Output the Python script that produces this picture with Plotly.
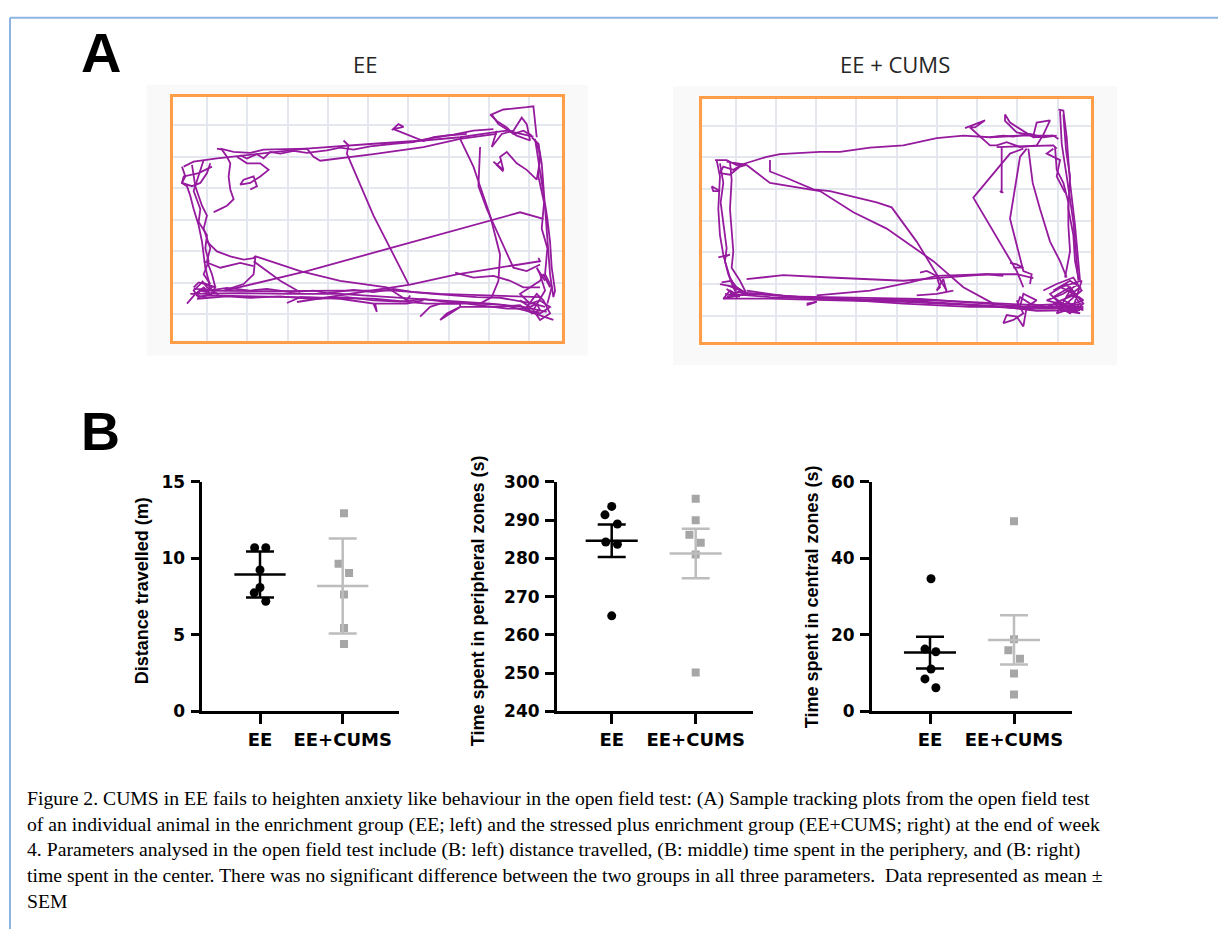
import plotly.graph_objects as go

W, H = 1218, 939

# ---------------- data ----------------
groups = ["EE", "EE+CUMS"]

dist_ee = [10.7, 10.7, 9.25, 8.1, 7.75, 7.2]
dist_cums = [12.95, 9.65, 9.05, 7.65, 5.45, 4.4]
dist_mean = [8.95, 8.2]
dist_err = [1.5, 3.1]

peri_ee = [293.6, 291.4, 289.0, 284.3, 283.7, 265.0]
peri_cums = [295.6, 290.0, 286.2, 284.1, 281.0, 250.2]
peri_mean = [284.6, 281.3]
peri_err = [4.25, 6.45]

cent_ee = [34.7, 16.3, 15.6, 11.1, 8.5, 6.2]
cent_cums = [49.7, 18.9, 16.0, 13.8, 9.9, 4.4]
cent_mean = [15.4, 18.7]
cent_err = [4.15, 6.45]

# tracking paths (camera coordinates), strokes separated by None
ee_x = [130,160,230,300,380,500,620,700,850,960,1060,1100,1180,None,
        240,280,330,370,500,520,540,700,850,960,1070,None,
        755,775,790,760,850,880,940,1000,1060,None,
        1190,1180,1160,1090,1055,1075,1130,1170,1160,1145,1120,1085,1055,1070,None,
        1060,1090,1080,1100,1130,1160,1190,1200,1195,None,
        1175,1195,1205,1210,1215,1220,1225,1230,1240,1245,1235,1230,1222,1210,1195,1185,None,
        610,625,620,700,805,None,
        960,1000,1020,1050,1080,1075,1055,1020,None,
        1020,1015,1040,1075,1120,1160,1200,None,
        255,500,750,1140,1210,None,
        340,345,360,480,600,740,800,810,None,
        340,420,480,None,
        470,700,810,950,1200,1195,None,
        945,1000,1060,1110,1150,1200,None,
        125,135,125,140,150,160,175,185,190,195,205,210,None,
        155,165,185,200,190,210,200,215,225,None,
        230,245,260,270,265,270,280,260,230,220,240,None,
        290,320,360,385,360,330,300,310,340,350,330,None,
        210,200,180,155,125,130,175,215,None,
        200,230,270,310,345,340,310,250,None,
        190,240,300,340,None,
        440,480,600,700,710,705,800,850,None,
        840,870,900,960,960,920,900,960,1020,1080,1140,1160,1200,1230,1200,1170,1140,1170,1200,1210,1230,None,
        150,300,450,600,750,900,1050,1150,1220,None,
        180,400,600,760,900,1050,1200,None,
        200,500,700,860,980,1100,1180,None,
        140,165,190,210,175,160,185,225,210,None,
        160,220,260,330,380,450,520,560,640,700,760,820,880,950,1010,1080,1130,1180,1215,None,
        170,260,330,420,520,620,700,780,850,930,1010,1090,1160,1210,1240,None,
        1185,1200,1195,1212,1205,1222,1215,1235,1222,None,
        1140,1170,1190,1200,1175,1160,1190,1210,1230,1200,1180,1215,1200,1190,1215,None,
        160,175,195,215,200,180,170,190,220,235,200,185,None,
        190,175,160,180,175,200,195,205,190,210,None,
        300,320,350,370,390,420,460,500,560,600,640,690,760,820,860,920,980,None,
        1050,1070,1100,1120,1150,1175,None,
        1085,1070,1090]
ee_y = [270,255,245,238,228,215,205,200,190,180,165,160,178,None,
        215,225,228,218,215,240,252,232,210,185,170,None,
        158,140,148,155,192,180,172,160,155,None,
        180,85,88,95,110,140,175,190,140,120,160,170,210,160,None,
        255,280,240,225,260,280,310,250,200,None,
        180,200,260,330,400,470,540,600,670,650,580,500,430,350,260,185,None,
        190,205,230,420,630,None,
        185,270,330,420,540,620,670,690,None,
        210,330,400,480,580,590,570,None,
        650,590,520,410,430,None,
        550,545,550,590,620,640,680,665,None,
        560,620,655,None,
        685,650,632,600,560,550,None,
        595,610,605,620,640,640,None,
        270,300,320,330,360,400,450,500,540,580,620,650,None,
        265,330,390,420,460,520,560,600,640,None,
        215,218,240,260,300,340,370,390,405,410,400,None,
        240,260,260,280,300,320,325,310,300,330,340,None,
        260,290,320,330,320,300,290,270,None,
        500,530,545,555,550,600,630,650,None,
        560,580,565,575,None,
        688,670,675,690,715,690,690,680,None,
        730,700,690,690,700,720,740,700,700,700,695,710,720,700,680,690,660,640,620,600,640,None,
        660,658,660,660,670,680,690,700,715,None,
        650,652,650,650,660,665,670,None,
        665,670,675,690,690,705,705,None,
        690,660,640,660,670,650,625,640,665,None,
        645,648,642,650,645,655,650,658,648,655,645,655,660,665,670,672,680,690,700,None,
        675,668,672,668,676,670,680,684,676,686,690,694,712,730,740,None,
        190,230,300,380,460,520,600,640,690,None,
        680,700,690,710,720,700,660,680,720,740,710,650,600,580,620,None,
        640,625,630,640,655,650,665,670,655,662,640,620,None,
        250,300,345,400,440,480,520,560,600,630,None,
        235,245,232,245,225,230,222,228,220,212,218,208,200,195,185,175,170,None,
        110,130,150,170,160,175,None,
        250,265,285]

cums_x = [220,290,330,450,510,600,700,800,880,960,1050,1150,1165,None,
          885,945,915,900,960,980,1010,1050,1100,1120,1140,1100,1090,1040,1005,1005,1020,1060,1090,1150,None,
          1165,1180,1190,1200,1215,1225,1230,None,
          1170,1175,1190,1210,1220,1225,None,
          1155,1160,1180,1195,1195,1200,1185,None,
          1075,1088,1110,1140,1170,1190,None,
          995,995,990,1000,None,
          1060,1020,910,960,1000,1040,1060,None,
          1070,1050,1020,1060,1085,1080,None,
          980,1060,1150,1160,None,
          300,300,350,430,480,620,665,740,800,830,None,
          230,300,450,550,650,790,880,970,None,
          230,340,480,600,700,800,950,1040,1090,None,
          440,600,720,800,950,1000,None,
          750,770,790,800,810,800,820,830,None,
          740,800,850,None,
          160,300,500,700,900,1050,1150,1240,None,
          200,400,600,800,1000,1100,1200,None,
          230,350,550,750,950,1050,1180,1235,None,
          180,300,500,700,900,1000,1100,1230,None,
          1150,1200,1230,1180,1220,1160,1200,1240,1180,1140,1190,1230,1200,1150,1220,1170,1235,1210,1240,1130,1180,1225,None,
          1040,1060,1030,1000,1010,1040,1060,1070,1100,1060,1050,None,
          140,150,145,150,160,175,190,200,None,
          180,185,180,190,185,210,230,None,
          135,170,200,220,190,160,150,180,210,230,170,None,
          125,150,130,125,None,
          145,180,160,None,
          150,200,230,160,180,210,165,None,
          410,440,410,None,
          1020,1040,1060,1030,None,
          170,240,320,420,520,620,720,820,920,1020,1120,1200,1240,None,
          1180,1188,1200,1195,1210,1215,1225,None,
          1120,1160,1210,1235,1200,1170,1230,1190,1150,1200,1240,1210,1160,1130,1080,1050,1040,1090,None,
          150,160,152,160,170,165,180,200,None,
          155,185,200,215,190,170,200,225,175,None,
          960,1000,1030,1080,1120,1160,None,
          1150,1130,1170,1160,1185]
cums_y = [262,240,232,225,225,212,205,183,175,180,175,175,185,None,
          152,128,150,150,205,205,195,210,205,172,128,135,175,165,130,110,135,160,180,175,None,
          95,98,180,320,450,570,620,None,
          100,200,300,440,560,620,None,
          210,280,320,380,450,530,610,None,
          215,320,400,500,560,610,None,
          210,350,345,350,None,
          215,230,365,450,520,590,640,None,
          215,240,430,590,600,630,None,
          210,208,205,215,None,
          250,285,305,340,345,380,395,500,600,650,None,
          265,320,345,410,460,560,640,690,None,
          615,603,610,615,620,612,600,600,612,None,
          665,650,625,605,600,605,None,
          595,590,600,605,640,650,615,655,None,
          665,660,650,None,
          675,675,680,685,695,705,705,700,None,
          655,670,678,680,690,695,690,None,
          650,668,672,676,690,698,700,690,None,
          660,670,676,690,700,700,712,710,None,
          650,620,640,680,700,720,650,680,700,660,630,690,720,690,660,640,620,700,710,680,660,630,None,
          680,720,740,750,725,730,760,700,680,660,700,None,
          250,300,400,480,540,600,640,660,None,
          255,310,400,530,580,620,660,None,
          250,250,265,262,280,270,290,295,270,265,255,None,
          330,345,345,330,None,
          548,540,548,None,
          630,640,660,675,650,668,660,None,
          695,685,690,None,
          565,570,580,580,None,
          668,660,665,672,675,680,682,688,692,700,702,698,705,None,
          110,220,300,400,480,560,610,None,
          650,630,610,650,680,710,720,700,670,640,690,715,690,700,690,670,700,710,None,
          260,320,380,450,520,560,610,650,None,
          625,620,640,650,660,645,670,655,635,None,
          180,175,178,170,180,175,None,
          215,230,250,300,350]

# ---------------- helpers ----------------
def fx(px):
    return px / W

def fy(py):
    return 1 - py / H

FONT = "Liberation Sans"
TICKFONT = "DejaVu Sans"
PURPLE = "#951a9e"
ORANGE = "#ff9e47"
GRID = "#e4e7ee"
GRAY_PT = "#a6a6a6"
GRAY_LN = "#bdbdbd"

fig = go.Figure()

# ---------------- Panel A tracking plots ----------------
fig.add_trace(go.Scatter(x=ee_x, y=ee_y, mode="lines", xaxis="x", yaxis="y",
                         line=dict(color=PURPLE, width=1.8), connectgaps=False,
                         showlegend=False, hoverinfo="skip"))
fig.add_trace(go.Scatter(x=cums_x, y=cums_y, mode="lines", xaxis="x2", yaxis="y2",
                         line=dict(color=PURPLE, width=1.8), connectgaps=False,
                         showlegend=False, hoverinfo="skip"))

def track_axes(xdom, ydom, xr, yr, gx0, gy0, gdx, gdy, nx, ny):
    xa = dict(domain=[fx(xdom[0]), fx(xdom[1])], range=xr,
              tickvals=[gx0 + gdx * k for k in range(nx)],
              showticklabels=False, ticks="", showgrid=True, gridcolor=GRID, gridwidth=1.5,
              zeroline=False, showline=True, mirror=True, linecolor=ORANGE, linewidth=2.5,
              fixedrange=True)
    ya = dict(domain=[fy(ydom[1]), fy(ydom[0])], range=yr,
              tickvals=[gy0 + gdy * k for k in range(ny)],
              showticklabels=False, ticks="", showgrid=True, gridcolor=GRID, gridwidth=1.5,
              zeroline=False, showline=True, mirror=True, linecolor=ORANGE, linewidth=2.5,
              fixedrange=True)
    return xa, ya

xa1, ya1 = track_axes((173, 561.7), (89, 337.7), [98, 1265], [803, 57], 200, 143, 120.9, 96.5, 9, 7)
xa2, ya2 = track_axes((702.3, 1090.7), (90.7, 339.3), [97, 1262], [808, 62], 197, 145, 120.75, 97, 9, 7)
xa1["anchor"], ya1["anchor"] = "y", "x"
xa2["anchor"], ya2["anchor"] = "y2", "x2"

# ---------------- Panel B scatter plots ----------------
panels = [
    dict(ee=dist_ee, cu=dist_cums, mean=dist_mean, err=dist_err,
         jee=[-0.065, 0.07, 0, 0, -0.07, 0.07], jcu=[0.016, -0.05, 0.077, 0.016, 0.016, 0.016],
         xdom=(202.3, 399.3), ctr=(260, 342.7), yr=[0, 15], dtick=5,
         title="Distance travelled (m)", tx=142, ty=594),
    dict(ee=peri_ee, cu=peri_cums, mean=peri_mean, err=peri_err,
         jee=[0, -0.08, 0.068, -0.071, 0.068, 0], jcu=[0, 0, -0.075, 0.06, 0, 0],
         xdom=(556.7, 752.7), ctr=(611.7, 695.7), yr=[240, 300], dtick=10,
         title="Time spent in peripheral zones (s)", tx=478, ty=604),
    dict(ee=cent_ee, cu=cent_cums, mean=cent_mean, err=cent_err,
         jee=[0.012, -0.06, 0.07, 0.012, -0.06, 0.07], jcu=[0, 0, -0.067, 0.071, 0, 0],
         xdom=(871.7, 1071.7), ctr=(930, 1014), yr=[0, 60], dtick=20,
         title="Time spent in central zones (s)", tx=812, ty=600),
]

layout_axes = {"xaxis": xa1, "yaxis": ya1, "xaxis2": xa2, "yaxis2": ya2}
annotations = []

for i, p in enumerate(panels):
    n = i + 3
    xid, yid = f"x{n}", f"y{n}"
    unit = p["ctr"][1] - p["ctr"][0]
    xr = [-(p["ctr"][0] - p["xdom"][0]) / unit, 1 + (p["xdom"][1] - p["ctr"][1]) / unit]
    fig.add_trace(go.Scatter(x=[0 + j for j in p["jee"]], y=p["ee"], mode="markers",
                             xaxis=xid, yaxis=yid, showlegend=False,
                             marker=dict(symbol="circle", size=9, color="black")))
    fig.add_trace(go.Scatter(x=[1 + j for j in p["jcu"]], y=p["cu"], mode="markers",
                             xaxis=xid, yaxis=yid, showlegend=False,
                             marker=dict(symbol="square", size=8, color=GRAY_PT)))
    for g, col in zip([0, 1], ["black", GRAY_LN]):
        fig.add_trace(go.Scatter(x=[g - 0.31, g + 0.31], y=[p["mean"][g]] * 2, mode="lines",
                                 xaxis=xid, yaxis=yid, showlegend=False,
                                 line=dict(color=col, width=2.5)))
        fig.add_trace(go.Scatter(x=[g], y=[p["mean"][g]], mode="markers",
                                 xaxis=xid, yaxis=yid, showlegend=False,
                                 marker=dict(size=1, opacity=0),
                                 error_y=dict(type="data", array=[p["err"][g]], visible=True,
                                              color=col, thickness=2.5, width=14)))
    layout_axes[f"xaxis{n}"] = dict(
        domain=[fx(p["xdom"][0]), fx(p["xdom"][1])], range=xr, anchor=yid,
        tickvals=[0, 1], ticktext=groups, ticks="outside", ticklen=10, tickwidth=2.5,
        tickcolor="black", showline=True, linecolor="black", linewidth=2.5,
        showgrid=False, zeroline=False, fixedrange=True,
        tickfont=dict(family=TICKFONT, size=18, color="black", weight="bold"))
    layout_axes[f"yaxis{n}"] = dict(
        domain=[fy(716.7), fy(482.2)], range=p["yr"], anchor=xid,
        tick0=p["yr"][0], dtick=p["dtick"], ticks="outside", ticklen=9, tickwidth=2.5,
        tickcolor="black", showline=True, linecolor="black", linewidth=2.5,
        showgrid=False, zeroline=False, fixedrange=True, ticklabelstandoff=2,
        tickfont=dict(family=TICKFONT, size=17, color="black", weight="bold"))
    annotations.append(dict(text=p["title"], x=fx(p["tx"]), y=fy(p["ty"]), xref="paper", yref="paper",
                            textangle=-90, showarrow=False, xanchor="center", yanchor="middle",
                            font=dict(family=FONT, size=18, color="black", weight="bold")))

# ---------------- texts ----------------
heads = [
    dict(text="A", x=fx(101), y=fy(43), font=dict(family=FONT, size=56, color="black", weight="bold")),
    dict(text="B", x=fx(100), y=fy(430), font=dict(family=FONT, size=54, color="black", weight="bold")),
    dict(text="EE", x=fx(365), y=fy(55), font=dict(family="Open Sans", size=22, color="#262626")),
    dict(text="EE + CUMS", x=fx(895), y=fy(55), font=dict(family="Open Sans", size=22, color="#262626")),
]
for a in heads:
    a.update(xref="paper", yref="paper", showarrow=False, xanchor="center", yanchor="middle")
annotations += heads

caption = [
    "Figure 2. CUMS in EE fails to heighten anxiety like behaviour in the open field test: (A) Sample tracking plots from the open field test",
    "of an individual animal in the enrichment group (EE; left) and the stressed plus enrichment group (EE+CUMS; right) at the end of week",
    "4. Parameters analysed in the open field test include (B: left) distance travelled, (B: middle) time spent in the periphery, and (B: right)",
    "time spent in the center. There was no significant difference between the two groups in all three parameters.&nbsp; Data represented as mean ±",
    "SEM",
]
for k, line in enumerate(caption):
    annotations.append(dict(text=line, x=fx(25), y=fy(806 + 26 * k), xref="paper", yref="paper",
                            showarrow=False, xanchor="left", yanchor="middle",
                            font=dict(family="Liberation Serif", size=19.7, color="black")))

shapes = [
    dict(type="rect", xref="paper", yref="paper", x0=fx(146.5), x1=fx(588), y0=fy(353), y1=fy(76.5),
         fillcolor="#f9f9f9", line=dict(width=0), layer="below"),
    dict(type="rect", xref="paper", yref="paper", x0=fx(673), x1=fx(1117), y0=fy(363), y1=fy(78),
         fillcolor="#f9f9f9", line=dict(width=0), layer="below"),
    dict(type="rect", xref="paper", yref="paper", x0=fx(173), x1=fx(561.7), y0=fy(337.7), y1=fy(89),
         fillcolor="white", line=dict(width=0), layer="below"),
    dict(type="rect", xref="paper", yref="paper", x0=fx(702.3), x1=fx(1090.7), y0=fy(339.3), y1=fy(90.7),
         fillcolor="white", line=dict(width=0), layer="below"),
    dict(type="line", xref="paper", yref="paper", x0=fx(10), x1=1, y0=fy(8), y1=fy(8),
         line=dict(color="#8db4e2", width=2)),
    dict(type="line", xref="paper", yref="paper", x0=fx(10), x1=fx(10), y0=fy(8), y1=0,
         line=dict(color="#8db4e2", width=2)),
]

fig.update_layout(
    width=W, height=H, margin=dict(l=0, r=0, t=0, b=0),
    paper_bgcolor="white", plot_bgcolor="rgba(0,0,0,0)",
    showlegend=False, annotations=annotations, shapes=shapes,
    **layout_axes,
)

fig.write_html("out.html", config={"displayModeBar": False},
               post_script="document.body.style.margin='0px'; document.body.style.overflow='hidden';")
